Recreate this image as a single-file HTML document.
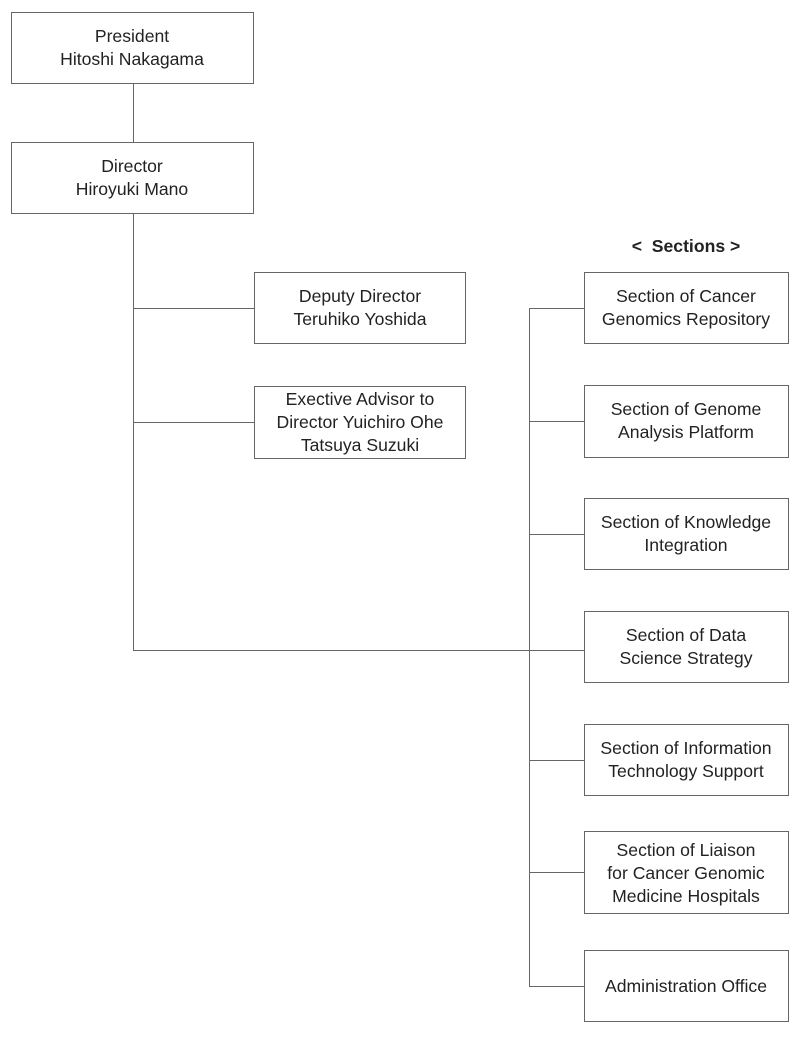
<!DOCTYPE html>
<html><head><style>
html,body{margin:0;padding:0;background:#fff;}
svg text{font-family:"Liberation Sans",Arial,sans-serif;font-size:17.6px;fill:#222;text-anchor:middle;}
</style></head><body>
<svg width="800" height="1034" viewBox="0 0 800 1034" xmlns="http://www.w3.org/2000/svg">
<g stroke="#666" stroke-width="1" fill="none" shape-rendering="crispEdges">
<line x1="133.5" y1="83" x2="133.5" y2="142"/>
<line x1="133.5" y1="213" x2="133.5" y2="650.5"/>
<line x1="133" y1="308.5" x2="254" y2="308.5"/>
<line x1="133" y1="422.5" x2="254" y2="422.5"/>
<line x1="133" y1="650.5" x2="584" y2="650.5"/>
<line x1="529.5" y1="308" x2="529.5" y2="986.5"/>
<line x1="529" y1="308.5" x2="584" y2="308.5"/>
<line x1="529" y1="421.5" x2="584" y2="421.5"/>
<line x1="529" y1="534.5" x2="584" y2="534.5"/>
<line x1="529" y1="760.5" x2="584" y2="760.5"/>
<line x1="529" y1="872.5" x2="584" y2="872.5"/>
<line x1="529" y1="986.5" x2="584" y2="986.5"/>
<rect x="11.5" y="12.5" width="242" height="71"/>
<rect x="11.5" y="142.5" width="242" height="71"/>
<rect x="254.5" y="272.5" width="211" height="71"/>
<rect x="254.5" y="386.5" width="211" height="72"/>
<rect x="584.5" y="272.5" width="204" height="71"/>
<rect x="584.5" y="385.5" width="204" height="72"/>
<rect x="584.5" y="498.5" width="204" height="71"/>
<rect x="584.5" y="611.5" width="204" height="71"/>
<rect x="584.5" y="724.5" width="204" height="71"/>
<rect x="584.5" y="831.5" width="204" height="82"/>
<rect x="584.5" y="950.5" width="204" height="71"/>
</g>
<text x="132" y="42">President</text><text x="132" y="65">Hitoshi Nakagama</text>
<text x="132" y="172">Director</text><text x="132" y="195">Hiroyuki Mano</text>
<text x="360" y="302">Deputy Director</text><text x="360" y="325">Teruhiko Yoshida</text>
<text x="360" y="405">Exective Advisor to</text><text x="360" y="428">Director Yuichiro Ohe</text><text x="360" y="451">Tatsuya Suzuki</text>
<text x="686" y="252" style="font-weight:bold">&lt;&#160; Sections &gt;</text>
<text x="686" y="302">Section of Cancer</text><text x="686" y="325">Genomics Repository</text>
<text x="686" y="415">Section of Genome</text><text x="686" y="438">Analysis Platform</text>
<text x="686" y="528">Section of Knowledge</text><text x="686" y="551">Integration</text>
<text x="686" y="641">Section of Data</text><text x="686" y="664">Science Strategy</text>
<text x="686" y="754">Section of Information</text><text x="686" y="777">Technology Support</text>
<text x="686" y="856">Section of Liaison</text><text x="686" y="879">for Cancer Genomic</text><text x="686" y="902">Medicine Hospitals</text>
<text x="686" y="992">Administration Office</text>
</svg>
</body></html>
